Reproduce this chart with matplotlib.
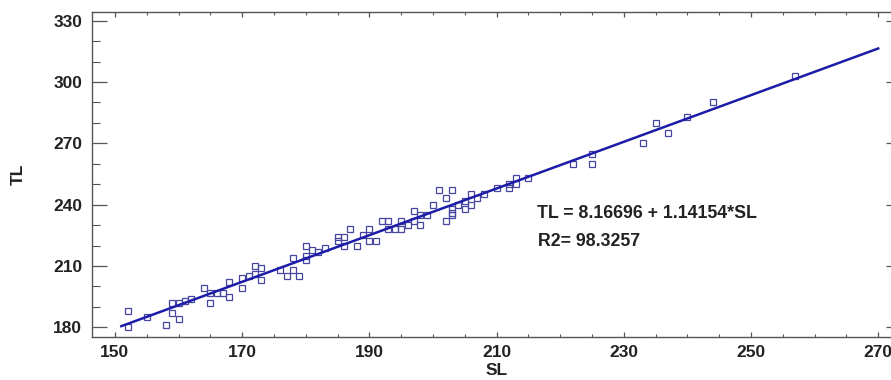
import matplotlib
matplotlib.use('Agg')
import matplotlib.pyplot as plt
from matplotlib.ticker import MultipleLocator

plt.rcParams.update({
    "font.family": ["Liberation Sans", "DejaVu Sans"],
    "font.weight": "bold",
})

# fish lengths (SL, TL)
sl = [152, 152, 155, 158, 159, 159, 160, 160, 161, 162, 164, 165, 165, 166, 167,
      168, 168, 170, 170, 171, 172, 172, 173, 173, 176, 177, 178, 178, 179, 180,
      180, 180, 181, 182, 183, 185, 185, 186, 186, 187, 188, 189, 190, 190, 191,
      192, 193, 193, 194, 195, 195, 196, 197, 197, 198, 198, 199, 200, 201, 202,
      202, 203, 203, 203, 203, 204, 205, 205, 206, 206, 207, 208, 210, 212, 212,
      213, 213, 215, 222, 225, 225, 233, 235, 237, 240, 244, 257]
tl = [188, 180, 185, 181, 192, 187, 184, 192, 193, 194, 199, 192, 197, 197, 197,
      202, 195, 204, 199, 205, 210, 206, 209, 203, 208, 205, 208, 214, 205, 220,
      215, 213, 218, 217, 219, 224, 222, 224, 220, 228, 220, 225, 228, 222, 222,
      232, 232, 228, 228, 232, 228, 230, 237, 232, 230, 235, 235, 240, 247, 243,
      232, 247, 238, 236, 235, 240, 242, 238, 245, 240, 243, 245, 248, 250, 248,
      253, 250, 253, 260, 265, 260, 270, 280, 275, 283, 290, 303]

intercept = 8.16696
slope = 1.14154
r2 = 98.3257
fit_x = [151, 270]
fit_y = [intercept + slope * v for v in fit_x]

fig = plt.figure(figsize=(8.91, 3.80), dpi=100)
ax = fig.add_axes([0.1033, 0.114, 0.908, 0.8537])

ax.plot(sl, tl, 's', markersize=3.8, markerfacecolor='none',
        markeredgecolor='#4646a0', markeredgewidth=0.9)
ax.plot(fit_x, fit_y, color='#1c1ca8', linewidth=1.8)

ax.text(216.4, 235.6, f'TL = {intercept} + {slope}*SL', fontsize=12.8,
        fontweight='bold', va='center', color='#222222')
ax.text(216.5, 221.9, f'R2= {r2}', fontsize=12.8, fontweight='bold',
        va='center', color='#222222')

ax.set_xlim(146.4, 273.6)
ax.set_ylim(175.4, 334.1)
ax.xaxis.set_minor_locator(MultipleLocator(5))
ax.yaxis.set_major_locator(MultipleLocator(30))
ax.yaxis.set_minor_locator(MultipleLocator(10))
ax.set_xticks(range(150, 271, 20))

ax.tick_params(axis='x', which='both', direction='in', top=True, colors='#555555',
               labelcolor='#222222', labelsize=12.5, pad=6)
ax.tick_params(axis='x', which='major', length=3.6, width=0.9)
ax.tick_params(axis='x', which='minor', length=2.2, width=0.8)
ax.tick_params(axis='y', which='both', direction='in', right=True, colors='#555555',
               labelcolor='#222222', labelsize=12.5, pad=7)
ax.tick_params(axis='y', which='major', length=11, width=0.9)
ax.tick_params(axis='y', which='minor', length=5.8, width=0.8)
for lbl in ax.get_xticklabels() + ax.get_yticklabels():
    lbl.set_fontweight('bold')

for s in ax.spines.values():
    s.set_color('#555555')
    s.set_linewidth(1.0)

ax.set_xlabel('SL', fontsize=12.5, fontweight='bold', color='#222222', labelpad=2.5)
ax.set_ylabel('TL', fontsize=12.5, fontweight='bold', color='#222222', labelpad=20)

fig.savefig('out.png', dpi=100)
